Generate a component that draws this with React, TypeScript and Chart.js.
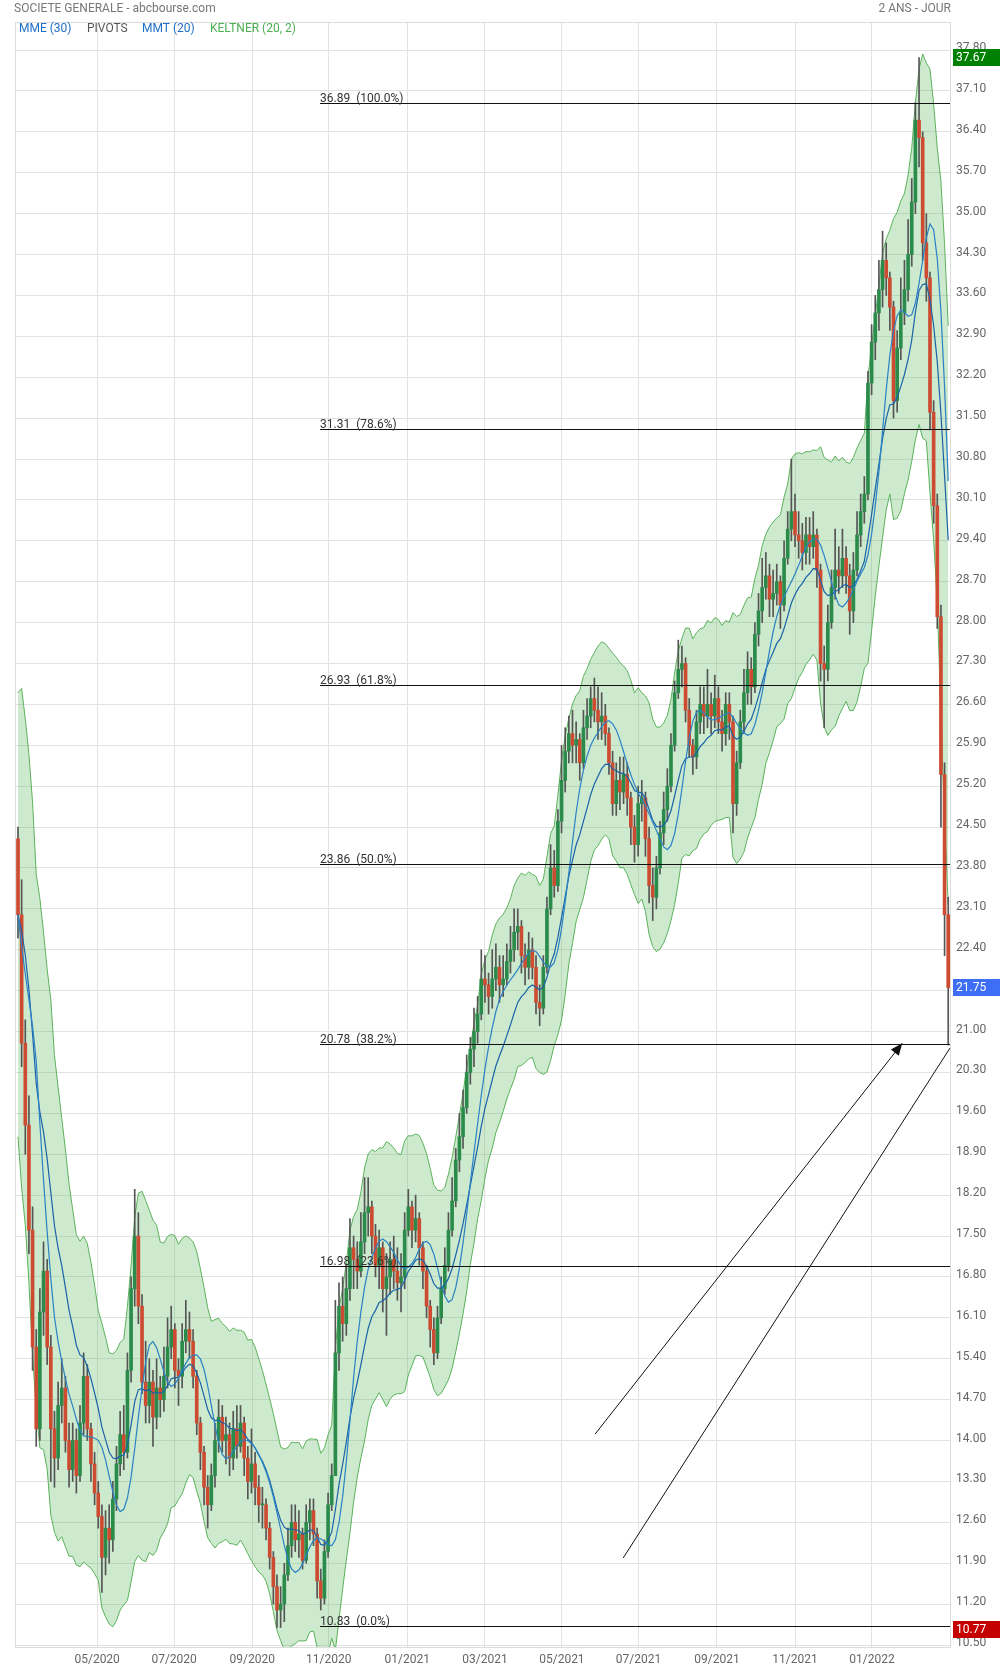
import React, { useEffect, useRef } from "react";
import { Chart, registerables } from "chart.js";

Chart.register(...registerables);

// Each candle = 2 trading sessions (Mar 2020 -> Mar 2022)
const opens = [
  24.3, 23.0, 20.8, 19.4, 17.6, 15.6, 14.2, 16.2, 16.9, 15.6,
  14.2, 13.7, 14.6, 14.9, 14.0, 13.5, 14.0, 13.4, 14.3, 15.1,
  14.2, 13.6, 13.1, 12.7, 12.0, 12.5, 12.3, 13.0, 13.6, 14.1,
  13.8, 15.2, 16.6, 17.5, 16.3, 15.0, 14.6, 15.0, 14.4, 14.9,
  14.7, 15.1, 15.6, 15.9, 15.2, 15.1, 15.7, 15.9, 15.7, 15.1,
  14.3, 13.8, 13.2, 12.9, 13.4, 14.0, 14.4, 14.0, 14.1, 13.7,
  14.2, 13.9, 14.3, 13.7, 13.3, 13.6, 13.2, 12.9, 12.9, 12.5,
  12.0, 11.5, 11.1, 11.2, 11.7, 12.2, 12.6, 12.3, 12.4, 11.95,
  12.6, 12.8, 12.4, 11.6, 11.3, 12.1, 12.9, 13.4, 15.5, 16.3,
  16.0, 16.6, 17.3, 17.1, 16.9, 17.4, 17.9, 18.0, 17.5, 17.0,
  17.3, 16.6, 16.8, 17.1, 16.9, 16.7, 16.8, 17.6, 18.0, 17.6,
  17.8, 17.3, 16.9, 16.3, 15.9, 15.5, 16.1, 16.6, 17.0, 17.6,
  18.1, 18.8, 19.2, 19.7, 20.3, 20.7, 21.0, 21.3, 21.9, 21.8,
  21.6, 21.9, 22.1, 21.8, 21.9, 22.2, 22.4, 22.7, 22.8, 22.3,
  22.1, 22.4, 22.1, 21.5, 21.4, 22.1, 23.1, 23.8, 23.5, 24.6,
  25.3, 25.8, 26.1, 25.9, 26.0, 25.6, 26.2, 26.4, 26.7, 26.5,
  26.3, 26.4, 26.1, 25.6, 24.9, 25.3, 25.1, 25.4, 25.0, 24.5,
  24.2, 24.9, 25.0, 24.3, 23.5, 23.3, 23.8, 24.4, 24.8, 25.2,
  25.9, 26.8, 27.2, 27.3, 26.5, 25.9, 25.7, 26.3, 26.6, 26.4,
  26.6, 26.4, 26.7, 26.3, 26.1, 26.6, 26.3, 24.9, 25.6, 26.3,
  26.8, 27.2, 26.9, 27.8, 28.2, 28.6, 28.8, 28.4, 28.5, 28.7,
  28.3, 29.1, 29.6, 29.9, 29.5, 29.4, 29.2, 29.5, 29.3, 29.5,
  28.9, 27.3, 27.2, 28.0, 28.6, 28.9, 28.8, 29.1, 28.8, 28.2,
  28.9, 29.5, 29.9, 30.2, 32.1, 32.8, 33.3, 33.7, 34.2, 33.9,
  33.4, 31.8, 32.7, 33.3, 33.7, 34.3, 35.2, 36.6, 36.3, 34.5,
  33.9, 31.6, 30.0, 28.1, 25.4, 23.0,
];
const highs = [
  24.5, 23.6, 21.2, 19.9, 18.0, 15.9, 16.6, 17.4, 17.1, 15.8,
  14.5, 15.0, 15.4, 15.1, 14.3, 14.3, 14.2, 14.6, 15.5, 15.3,
  14.3, 13.8, 13.3, 12.9, 12.8, 12.9, 13.3, 13.9, 14.5, 14.6,
  15.5, 16.8, 18.3, 17.9, 16.5, 15.7, 15.4, 15.2, 15.4, 15.1,
  15.6, 16.1, 16.3, 16.0, 15.4, 16.0, 16.4, 16.2, 15.9, 15.2,
  14.4, 13.9, 13.4, 13.6, 14.3, 14.7, 14.6, 14.4, 14.3, 14.5,
  14.6, 14.6, 14.4, 13.9, 14.2, 13.8, 13.4, 13.2, 13.0, 12.6,
  12.1, 11.7, 11.5, 11.9, 12.5, 12.9, 12.9, 12.8, 12.5, 12.9,
  13.0, 13.0, 12.5, 11.8, 12.3, 13.1, 13.6, 16.4, 16.7, 16.8,
  17.0, 17.8, 17.5, 17.4, 17.9, 18.5, 18.5, 18.1, 17.7, 17.6,
  17.4, 17.2, 17.4, 17.5, 17.3, 17.2, 17.9, 18.3, 18.1, 18.2,
  17.9, 17.4, 17.0, 16.4, 16.1, 16.3, 16.8, 17.3, 17.9, 18.5,
  19.0, 19.6, 20.0, 20.6, 20.9, 21.4, 21.6, 22.4, 22.3, 22.0,
  22.4, 22.5, 22.3, 22.3, 22.5, 22.8, 23.1, 23.1, 22.9, 22.5,
  22.7, 22.6, 22.3, 21.8, 22.3, 23.3, 24.2, 24.1, 24.8, 25.9,
  26.2, 26.4, 26.5, 26.3, 26.1, 26.5, 26.7, 26.9, 27.05, 26.9,
  26.8, 26.6, 26.2, 25.8, 25.6, 25.7, 25.7, 25.6, 25.1, 24.7,
  25.2, 25.3, 25.1, 24.5, 23.8, 24.0, 24.6, 25.1, 25.5, 26.1,
  27.0, 27.7, 27.6, 27.4, 26.7, 26.0, 26.5, 26.9, 26.9, 27.2,
  26.8, 27.1, 26.9, 26.5, 26.8, 26.8, 26.4, 25.8, 26.5, 27.2,
  27.5, 27.4, 28.0, 28.5, 29.1, 29.2, 29.0, 28.9, 29.0, 28.8,
  29.4, 29.9, 30.8, 30.2, 29.9, 29.7, 29.8, 29.8, 29.9, 29.6,
  29.0, 27.6, 28.3, 28.9, 29.6, 29.3, 29.6, 29.3, 29.0, 29.2,
  29.9, 30.2, 30.5, 32.3, 33.1, 33.6, 34.2, 34.7, 34.5, 34.0,
  33.5, 33.0, 33.9, 34.2, 34.9, 35.6, 36.9, 37.67, 36.4, 35.0,
  34.0, 31.8, 30.2, 28.3, 25.6, 23.3,
];
const lows = [
  22.6, 20.4, 18.9, 17.2, 15.2, 13.9, 14.0, 15.8, 15.3, 13.3,
  13.2, 13.5, 14.3, 13.8, 13.2, 13.3, 13.1, 13.3, 14.1, 14.0,
  13.3, 12.9, 12.5, 11.4, 11.7, 11.9, 12.1, 12.8, 13.4, 13.5,
  13.7, 15.0, 16.3, 16.0, 14.8, 14.3, 14.3, 13.9, 14.2, 14.4,
  14.5, 14.9, 15.4, 14.9, 14.6, 14.9, 15.5, 15.4, 14.9, 14.1,
  13.5, 12.9, 12.5, 12.8, 13.2, 13.8, 13.8, 13.6, 13.4, 13.5,
  13.7, 13.8, 13.4, 13.0, 13.1, 12.9, 12.6, 12.5, 12.3, 11.8,
  11.2, 10.8, 10.8, 10.9, 11.6, 12.0, 12.1, 12.0, 11.8, 11.9,
  12.3, 12.2, 11.3, 11.1, 11.2, 12.0, 12.8, 13.4, 15.2, 15.7,
  15.8, 16.4, 16.6, 16.6, 16.8, 17.2, 17.5, 17.2, 16.8, 16.6,
  16.2, 15.8, 16.5, 16.6, 16.4, 16.2, 16.6, 17.5, 17.3, 17.4,
  17.0, 16.6, 16.1, 15.6, 15.3, 15.4, 16.0, 16.5, 16.9, 17.5,
  18.0, 18.6, 19.0, 19.6, 20.1, 20.4, 20.8, 21.2, 21.5, 21.3,
  21.4, 21.7, 21.5, 21.6, 21.8, 22.0, 22.2, 22.4, 22.0, 21.8,
  21.9, 21.9, 21.3, 21.1, 21.3, 22.0, 23.0, 23.3, 23.4, 24.4,
  25.1, 25.6, 25.6, 25.6, 25.3, 25.5, 26.0, 26.2, 26.3, 26.0,
  26.0, 25.9, 25.4, 24.7, 24.7, 24.8, 24.9, 24.7, 24.2, 23.9,
  24.0, 24.6, 24.0, 23.2, 22.9, 23.1, 23.7, 24.2, 24.6, 25.1,
  25.8, 26.7, 26.9, 26.3, 25.7, 25.4, 25.5, 26.1, 26.1, 26.2,
  26.1, 26.2, 26.1, 25.8, 25.9, 26.0, 24.4, 24.7, 25.5, 26.1,
  26.6, 26.6, 26.8, 27.6, 28.0, 28.4, 28.1, 28.1, 28.3, 27.9,
  28.2, 29.0, 29.4, 29.3, 29.1, 28.9, 29.0, 29.0, 29.1, 28.6,
  27.0, 26.2, 27.0, 27.9, 28.4, 28.5, 28.6, 28.5, 27.8, 28.0,
  28.8, 29.3, 29.7, 30.1, 31.9, 32.5, 33.0, 33.4, 33.6, 33.0,
  31.5, 31.6, 32.5, 33.1, 33.5, 34.1, 35.0, 35.8, 34.2, 33.5,
  31.3, 29.7, 27.9, 24.5, 22.3, 20.77,
];
const closes = [
  23.0, 20.8, 19.4, 17.6, 15.6, 14.2, 16.2, 16.9, 15.6, 14.2,
  13.7, 14.6, 14.9, 14.0, 13.5, 14.0, 13.4, 14.3, 15.1, 14.2,
  13.6, 13.1, 12.7, 12.0, 12.5, 12.3, 13.0, 13.6, 14.1, 13.8,
  15.2, 16.6, 17.5, 16.3, 15.0, 14.6, 15.0, 14.4, 14.9, 14.7,
  15.1, 15.6, 15.9, 15.2, 15.1, 15.7, 15.9, 15.7, 15.1, 14.3,
  13.8, 13.2, 12.9, 13.4, 14.0, 14.4, 14.0, 14.1, 13.7, 14.2,
  13.9, 14.3, 13.7, 13.3, 13.6, 13.2, 12.9, 12.9, 12.5, 12.0,
  11.5, 11.1, 11.2, 11.7, 12.2, 12.6, 12.3, 12.4, 11.95, 12.6,
  12.8, 12.4, 11.6, 11.3, 12.1, 12.9, 13.4, 15.5, 16.3, 16.0,
  16.6, 17.3, 17.1, 16.9, 17.4, 17.9, 18.0, 17.5, 17.0, 17.3,
  16.6, 16.8, 17.1, 16.9, 16.7, 16.8, 17.6, 18.0, 17.6, 17.8,
  17.3, 16.9, 16.3, 15.9, 15.5, 16.1, 16.6, 17.0, 17.6, 18.1,
  18.8, 19.2, 19.7, 20.3, 20.7, 21.0, 21.3, 21.9, 21.8, 21.6,
  21.9, 22.1, 21.8, 21.9, 22.2, 22.4, 22.7, 22.8, 22.3, 22.1,
  22.4, 22.1, 21.5, 21.4, 22.1, 23.1, 23.8, 23.5, 24.6, 25.3,
  25.8, 26.1, 25.9, 26.0, 25.6, 26.2, 26.4, 26.7, 26.5, 26.3,
  26.4, 26.1, 25.6, 24.9, 25.3, 25.1, 25.4, 25.0, 24.5, 24.2,
  24.9, 25.0, 24.3, 23.5, 23.3, 23.8, 24.4, 24.8, 25.2, 25.9,
  26.8, 27.2, 27.3, 26.5, 25.9, 25.7, 26.3, 26.6, 26.4, 26.6,
  26.4, 26.7, 26.3, 26.1, 26.6, 26.3, 24.9, 25.6, 26.3, 26.8,
  27.2, 26.9, 27.8, 28.2, 28.6, 28.8, 28.4, 28.5, 28.7, 28.3,
  29.1, 29.6, 29.9, 29.5, 29.4, 29.2, 29.5, 29.3, 29.5, 28.9,
  27.3, 27.2, 28.0, 28.6, 28.9, 28.8, 29.1, 28.8, 28.2, 28.9,
  29.5, 29.9, 30.2, 32.1, 32.8, 33.3, 33.7, 34.2, 33.9, 33.4,
  31.8, 32.7, 33.3, 33.7, 34.3, 35.2, 36.6, 36.3, 34.5, 33.9,
  31.6, 30.0, 28.1, 25.4, 23.0, 21.75,
];

// x-axis month labels and the candle index at which each month starts
const monthLabels = ["05/2020", "07/2020", "09/2020", "11/2020", "01/2021", "03/2021", "05/2021", "07/2021", "09/2021", "11/2021", "01/2022"];
const monthTickIndex = [21.7, 42.8, 64.2, 85.2, 106.7, 128.0, 149.1, 170.1, 191.6, 213.0, 234.1];

// right-axis price ticks
const priceTicks = [
  10.5, 11.2, 11.9, 12.6, 13.3, 14.0, 14.7, 15.4, 16.1, 16.8,
  17.5, 18.2, 18.9, 19.6, 20.3, 21.0, 21.7, 22.4, 23.1, 23.8,
  24.5, 25.2, 25.9, 26.6, 27.3, 28.0, 28.7, 29.4, 30.1, 30.8,
  31.5, 32.2, 32.9, 33.6, 34.3, 35.0, 35.7, 36.4, 37.1, 37.8,
];

// Fibonacci retracement levels (pivots)
const fibLevels = [36.89, 31.31, 26.93, 23.86, 20.78, 16.98, 10.83];
const fibPercents = ["100.0", "78.6", "61.8", "50.0", "38.2", "23.6", "0.0"];
const fibStartIndex = 82.8;

// Hand-drawn arrows (in candle index / price units)
const arrowStartIndex = [158.2, 165.9];
const arrowStartPrice = [14.11, 11.99];
const arrowEndIndex = [242.4, 255.5];
const arrowEndPrice = [20.8, 20.72];
const arrowHasHead = [true, false];

// Price markers on the right axis
const markerPrices = [37.67, 21.75, 10.77];
const markerColors = ["#008000", "#3d6ef5", "#c40000"];

// indicator periods, expressed in 2-session candles
const MME_PERIOD = 15; // MME (30)
const MMT_PERIOD = 10; // MMT (20)
const KELTNER_PERIOD = 10; // KELTNER (20, 2)
const KELTNER_MULT = 2;

const Y_MIN = 10.466;
const Y_MAX = 38.28;
const X_MIN = -0.82;
const X_MAX = 255.76;

function emaOf(values: number[], n: number): number[] {
  const k = 2 / (n + 1);
  const out: number[] = [];
  values.forEach((v, i) => out.push(i === 0 ? v : v * k + out[i - 1] * (1 - k)));
  return out;
}
function smaOf(values: number[], n: number): number[] {
  return values.map((_, i) => {
    const w = values.slice(Math.max(0, i - n + 1), i + 1);
    return w.reduce((a, b) => a + b, 0) / w.length;
  });
}

const GREEN = "#2a8b4b";
const RED = "#cd4b30";
const FONT = "Roboto, 'DejaVu Sans', sans-serif";

export default function App() {
  const ref = useRef<HTMLCanvasElement | null>(null);

  useEffect(() => {
    if (!ref.current) return;
    Chart.defaults.font.family = FONT;

    const trueRange = closes.map((_, i) =>
      i === 0
        ? highs[0] - lows[0]
        : Math.max(highs[i] - lows[i], Math.abs(highs[i] - closes[i - 1]), Math.abs(lows[i] - closes[i - 1]))
    );
    const mme = emaOf(closes, MME_PERIOD);
    const mmt = smaOf(smaOf(closes, Math.ceil(MMT_PERIOD / 2)), Math.floor(MMT_PERIOD / 2) + 1);
    const kMid = emaOf(closes, KELTNER_PERIOD);
    const atr = emaOf(trueRange, KELTNER_PERIOD);
    const kUp = kMid.map((m, i) => m + KELTNER_MULT * atr[i]);
    const kLow = kMid.map((m, i) => m - KELTNER_MULT * atr[i]);

    const pts = (arr: number[]) => arr.map((v, i) => ({ x: i, y: v }));
    const candleColors = closes.map((c, i) => (c >= opens[i] ? GREEN : RED));

    const overlay = {
      id: "overlay",
      afterDatasetsDraw(chart: any) {
        const { ctx, chartArea: a } = chart;
        const xs = chart.scales.x;
        const ys = chart.scales.y;
        ctx.save();
        ctx.beginPath();
        ctx.rect(a.left, a.top, a.right - a.left, a.bottom - a.top);
        ctx.clip();
        // fib lines
        const fx = xs.getPixelForValue(fibStartIndex);
        fibLevels.forEach((lv, k) => {
          const py = Math.round(ys.getPixelForValue(lv)) + 0.5;
          ctx.strokeStyle = "#111";
          ctx.lineWidth = 1;
          ctx.beginPath();
          ctx.moveTo(fx, py);
          ctx.lineTo(a.right, py);
          ctx.stroke();
          ctx.fillStyle = "#333";
          ctx.font = `12px ${FONT}`;
          ctx.textAlign = "left";
          ctx.textBaseline = "alphabetic";
          ctx.fillText(`${lv.toFixed(2)}  (${fibPercents[k]}%)`, fx, py - 2);
        });
        // arrows
        arrowStartIndex.forEach((si, k) => {
          const x1 = xs.getPixelForValue(si);
          const y1 = ys.getPixelForValue(arrowStartPrice[k]);
          const x2 = xs.getPixelForValue(arrowEndIndex[k]);
          const y2 = ys.getPixelForValue(arrowEndPrice[k]);
          ctx.strokeStyle = "#111";
          ctx.fillStyle = "#111";
          ctx.lineWidth = 1;
          ctx.beginPath();
          ctx.moveTo(x1, y1);
          ctx.lineTo(x2, y2);
          ctx.stroke();
          if (arrowHasHead[k]) {
            const ang = Math.atan2(y2 - y1, x2 - x1);
            const L = 12;
            const W = 5;
            const bx = x2 - L * Math.cos(ang);
            const by = y2 - L * Math.sin(ang);
            ctx.beginPath();
            ctx.moveTo(x2, y2);
            ctx.lineTo(bx + W * Math.sin(ang), by - W * Math.cos(ang));
            ctx.lineTo(bx - W * Math.sin(ang), by + W * Math.cos(ang));
            ctx.closePath();
            ctx.fill();
          }
        });
        ctx.restore();
      },
      afterDraw(chart: any) {
        const { ctx, chartArea: a } = chart;
        const ys = chart.scales.y;
        ctx.save();
        // frame
        ctx.strokeStyle = "#dcdcdc";
        ctx.lineWidth = 1;
        ctx.strokeRect(a.left + 0.5, a.top + 0.5, a.right - a.left - 1, a.bottom - a.top);
        // titles
        ctx.font = `12px ${FONT}`;
        ctx.textBaseline = "middle";
        ctx.fillStyle = "#777";
        ctx.textAlign = "left";
        ctx.fillText("SOCIETE GENERALE - abcbourse.com", 14, 9);
        ctx.textAlign = "right";
        ctx.fillText("2 ANS - JOUR", 951, 9);
        // legend
        ctx.textAlign = "left";
        const legend: [string, string, number][] = [
          ["MME (30)", "#1f6fc5", 19],
          ["PIVOTS", "#555555", 87],
          ["MMT (20)", "#1f6fc5", 142],
          ["KELTNER (20, 2)", "#4caf50", 210],
        ];
        legend.forEach(([t, c, x]) => {
          ctx.fillStyle = c;
          ctx.fillText(t, x, 29);
        });
        // price markers
        markerPrices.forEach((p, k) => {
          const py = ys.getPixelForValue(p);
          ctx.fillStyle = markerColors[k];
          ctx.fillRect(a.right + 2, Math.round(py - 8.5), 1000 - a.right - 2, 17);
          ctx.fillStyle = "#fff";
          ctx.font = `12px ${FONT}`;
          ctx.textAlign = "left";
          ctx.textBaseline = "middle";
          ctx.fillText(p.toFixed(2), a.right + 5, py + 0.5);
        });
        ctx.restore();
      },
    };

    const chart = new Chart(ref.current, {
      type: "bar",
      data: {
        datasets: [
          {
            type: "line",
            data: pts(kUp),
            borderColor: "rgb(92,178,92)",
            borderWidth: 1,
            pointRadius: 0,
            fill: "+1",
            backgroundColor: "rgba(76,175,80,0.28)",
            order: 10,
          } as any,
          {
            type: "line",
            data: pts(kLow),
            borderColor: "rgb(92,178,92)",
            borderWidth: 1,
            pointRadius: 0,
            fill: false,
            order: 10,
          } as any,
          {
            type: "bar",
            data: closes.map((_, i) => ({ x: i, y: [lows[i], highs[i]] })),
            backgroundColor: "#555",
            barThickness: 1,
            grouped: false,
            borderWidth: 0,
            order: 5,
          } as any,
          {
            type: "bar",
            data: closes.map((c, i) => ({ x: i, y: [opens[i], c] })),
            backgroundColor: candleColors,
            barThickness: 3,
            minBarLength: 1,
            grouped: false,
            borderWidth: 0,
            order: 4,
          } as any,
          {
            type: "line",
            data: pts(mme),
            borderColor: "#1a63a8",
            borderWidth: 1.2,
            pointRadius: 0,
            fill: false,
            order: 2,
          } as any,
          {
            type: "line",
            data: pts(mmt),
            borderColor: "#2a82c4",
            borderWidth: 1.2,
            pointRadius: 0,
            fill: false,
            order: 1,
          } as any,
        ],
      },
      options: {
        responsive: false,
        maintainAspectRatio: false,
        devicePixelRatio: 1,
        animation: false,
        layout: { padding: { left: 15, top: 22, right: 0, bottom: 0 } },
        plugins: { legend: { display: false }, tooltip: { enabled: false } },
        scales: {
          x: {
            type: "linear",
            min: X_MIN,
            max: X_MAX,
            offset: false,
            grid: { color: "#e2e2e2", lineWidth: 1, drawTicks: false, offset: false },
            border: { display: false },
            afterBuildTicks: (s: any) => {
              s.ticks = monthTickIndex.map((v) => ({ value: v }));
            },
            afterFit: (s: any) => {
              s.height = 24;
            },
            ticks: {
              autoSkip: false,
              maxRotation: 0,
              padding: 6,
              color: "#666",
              font: { size: 12, family: FONT },
              callback: (_v: any, i: number) => monthLabels[i],
            },
          },
          y: {
            type: "linear",
            position: "right",
            min: Y_MIN,
            max: Y_MAX,
            grid: { color: "#e2e2e2", lineWidth: 1, drawTicks: false },
            border: { display: false },
            afterBuildTicks: (s: any) => {
              s.ticks = priceTicks.map((v) => ({ value: v }));
            },
            afterFit: (s: any) => {
              s.width = 49;
            },
            ticks: {
              padding: 5,
              labelOffset: -2,
              color: "#666",
              font: { size: 12, family: FONT },
              callback: (v: any) => Number(v).toFixed(2),
            },
          },
        },
      } as any,
      plugins: [overlay],
    });
    return () => chart.destroy();
  }, []);

  return (
    <div style={{ position: "absolute", left: 0, top: 0, width: 1000, height: 1671, background: "#fff" }}>
      <canvas ref={ref} width={1000} height={1671} style={{ display: "block" }} />
    </div>
  );
}
